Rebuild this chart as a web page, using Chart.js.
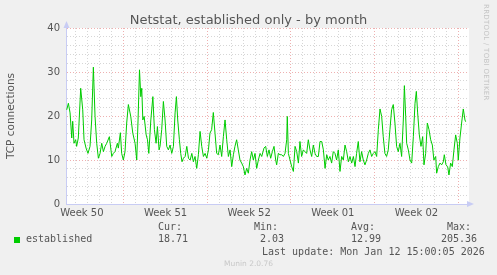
<!DOCTYPE html>
<html>
<head>
<meta charset="utf-8">
<script src="https://cdn.jsdelivr.net/npm/chart.js@4/dist/chart.umd.min.js"></script>
<style>
  body { margin: 0; background: #f0f0f0; }
  #wrap { position: relative; width: 497px; height: 275px; background: #f0f0f0; overflow: hidden; }
  #netstat-month-id { position: absolute; left: 0; top: 0; }
  .title { position: absolute; left: 0; width: 497px; top: 11.5px; line-height: 16px; text-align: center; font: 13px "DejaVu Sans", sans-serif; color: #555; white-space: pre; }
  .txt { position: absolute; font: 10px "DejaVu Sans Mono", monospace; color: #555; line-height: 12px; white-space: pre; }
  .swatch { position: absolute; left: 14px; top: 237px; width: 6px; height: 6px; background: #00cc00; }
  .credit { position: absolute; left: 482px; top: 4px; writing-mode: vertical-rl; font: 7px "DejaVu Sans", sans-serif; color: #c4c4c4; letter-spacing: 0.3px; }
  .munin { position: absolute; left: 0; width: 497px; top: 259px; text-align: center; font: 7.5px "DejaVu Sans", sans-serif; color: #c8c8c8; }
</style>
</head>
<body>
<div id="wrap">
  <canvas id="netstat-month-id" width="497" height="275"></canvas>
  <div class="title">Netstat, established only - by month</div>
  <div class="credit">RRDTOOL / TOBI OETIKER</div>
  <div class="txt" style="left:158px;top:221px">Cur:</div>
  <div class="txt" style="left:254px;top:221px">Min:</div>
  <div class="txt" style="left:351px;top:221px">Avg:</div>
  <div class="txt" style="left:447px;top:221px">Max:</div>
  <div class="swatch"></div>
  <div class="txt" style="left:26px;top:233px">established</div>
  <div class="txt" style="left:158px;top:233px">18.71</div>
  <div class="txt" style="left:260px;top:233px">2.03</div>
  <div class="txt" style="left:351px;top:233px">12.99</div>
  <div class="txt" style="left:441px;top:233px">205.36</div>
  <div class="txt" style="left:262px;top:246px">Last update: Mon Jan 12 15:00:05 2026</div>
  <div class="munin">Munin 2.0.76</div>
</div>
<script>
// time in days relative to Mon Jan 12 00:00
const days = [
  -32.77,-32.63,-32.49,-32.35,-32.27,-32.16,-32.02,-31.94,-31.80,-31.60,
  -31.43,-31.32,-31.15,-30.99,-30.82,-30.68,-30.54,-30.40,-30.26,-30.12,
  -29.98,-29.84,-29.70,-29.56,-29.42,-29.20,-29.00,-28.87,-28.73,-28.53,
  -28.45,-28.28,-28.17,-28.03,-27.89,-27.75,-27.61,-27.41,-27.24,-27.05,
  -26.91,-26.80,-26.68,-26.57,-26.49,-26.40,-26.29,-26.12,-26.01,-25.90,
  -25.73,-25.56,-25.43,-25.29,-25.18,-25.04,-24.96,-24.82,-24.68,-24.54,
  -24.40,-24.26,-24.12,-23.98,-23.84,-23.70,-23.59,-23.48,-23.34,-23.23,
  -23.12,-23.00,-22.86,-22.72,-22.58,-22.44,-22.30,-22.17,-22.03,-21.89,
  -21.75,-21.61,-21.47,-21.33,-21.19,-21.05,-20.91,-20.78,-20.64,-20.50,
  -20.36,-20.22,-20.08,-19.94,-19.80,-19.66,-19.52,-19.38,-19.24,-19.10,
  -18.96,-18.82,-18.69,-18.55,-18.41,-18.27,-18.13,-17.99,-17.85,-17.71,
  -17.57,-17.43,-17.29,-17.15,-17.01,-16.87,-16.73,-16.59,-16.45,-16.26,
  -16.12,-15.98,-15.84,-15.70,-15.56,-15.42,-15.28,-15.20,-15.06,-14.92,
  -14.78,-14.64,-14.50,-14.36,-14.31,-14.22,-14.08,-13.94,-13.80,-13.66,
  -13.52,-13.38,-13.25,-13.11,-12.97,-12.83,-12.69,-12.55,-12.41,-12.27,
  -12.13,-11.99,-11.85,-11.71,-11.57,-11.43,-11.29,-11.15,-11.01,-10.88,
  -10.74,-10.60,-10.46,-10.32,-10.18,-10.04,-9.90,-9.76,-9.62,-9.48,
  -9.34,-9.20,-9.06,-8.92,-8.78,-8.64,-8.51,-8.37,-8.23,-8.09,
  -7.95,-7.81,-7.67,-7.53,-7.39,-7.25,-7.11,-6.97,-6.83,-6.69,
  -6.55,-6.41,-6.28,-6.14,-6.00,-5.86,-5.72,-5.58,-5.44,-5.30,
  -5.16,-5.02,-4.88,-4.74,-4.60,-4.51,-4.40,-4.32,-4.18,-4.04,
  -3.90,-3.76,-3.62,-3.51,-3.40,-3.26,-3.12,-2.98,-2.87,-2.73,
  -2.59,-2.45,-2.31,-2.17,-2.04,-1.89,-1.81,-1.67,-1.53,-1.39,
  -1.25,-1.17,-1.03,-0.89,-0.78,-0.64,-0.50,-0.36,-0.22,-0.08,
  0.00,0.14,0.28,0.42,0.56,0.62
];

// established TCP connections
const established = [
  21.4,22.9,20.7,15.0,18.8,13.8,14.6,13.1,15.0,26.3,
  21.4,14.6,12.7,11.5,13.1,19.1,31.1,19.9,13.8,10.4,
  11.5,13.8,11.9,13.1,13.8,15.3,10.8,11.5,11.9,13.8,
  12.7,16.2,11.5,10.0,11.9,18.4,22.6,19.9,16.1,13.8,
  10.0,19.1,30.5,24.4,26.3,19.1,19.9,15.7,14.6,11.5,
  19.1,24.4,16.9,13.8,17.6,12.3,13.1,16.9,23.3,19.1,
  13.1,12.3,13.4,11.5,13.1,20.7,24.4,19.1,14.6,11.5,
  9.6,10.4,10.8,13.1,10.4,10.0,11.5,9.6,10.8,8.1,
  11.2,16.5,13.1,10.8,11.5,10.4,12.3,16.1,16.9,20.8,
  16.1,11.5,11.2,13.4,10.8,15.3,19.1,14.6,10.8,12.3,
  8.5,11.2,13.1,14.6,12.3,10.0,9.3,8.5,6.6,8.1,
  7.0,10.0,11.9,10.0,11.5,8.1,10.0,11.5,10.8,12.7,
  13.1,10.8,12.3,10.4,11.9,13.1,10.0,8.9,11.5,11.2,
  11.2,10.8,11.5,14.6,19.9,11.5,10.0,8.5,7.4,13.1,
  11.9,9.3,14.2,10.8,12.3,11.9,11.5,14.6,12.3,10.8,
  13.4,11.5,10.8,10.8,14.2,14.2,12.3,8.1,11.2,10.0,
  10.8,9.3,11.9,11.5,10.0,12.3,7.4,10.8,10.0,13.4,
  11.9,9.6,10.8,9.3,10.8,8.5,11.5,14.2,9.6,11.9,
  10.0,8.9,10.0,11.5,12.3,10.8,11.5,11.9,10.8,16.9,
  21.6,19.9,15.3,11.5,10.8,12.3,16.9,21.4,22.6,18.4,
  13.1,11.9,13.8,10.8,19.1,26.9,19.9,13.8,12.3,10.0,
  9.3,15.3,22.9,25.6,20.7,15.7,13.1,15.3,8.9,11.5,
  18.4,16.9,14.6,13.4,10.0,10.8,7.0,8.5,9.3,8.9,
  9.6,11.2,8.9,8.5,6.6,9.3,8.5,12.3,15.7,13.8,
  10.0,15.0,18.4,21.6,19.1,18.7
];

// week labels sit mid-week (Thursday noon)
const weekLabels = ['Week 50', 'Week 51', 'Week 52', 'Week 01', 'Week 02'];
const weekCenters = [-31.5, -24.5, -17.5, -10.5, -3.5];
const yTickLabels = [0, 10, 20, 30, 40];

const AXIS_COLOR = '#c8ccf4';
const MAJOR_GRID = '#eeb0b0';
const MINOR_GRID = '#d6d6d6';

// white plot background + axis arrows, like rrdtool
const muninFrame = {
  id: 'muninFrame',
  beforeDraw(chart) {
    const { ctx, chartArea: a } = chart;
    ctx.save();
    ctx.fillStyle = '#ffffff';
    ctx.fillRect(a.left, a.top, a.right - a.left + 2, a.bottom - a.top);
    ctx.restore();
  },
  afterDraw(chart) {
    const { ctx, chartArea: a } = chart;
    ctx.save();
    ctx.fillStyle = AXIS_COLOR;
    ctx.beginPath();
    ctx.moveTo(a.left + 0.5, a.top - 7);
    ctx.lineTo(a.left - 2.5, a.top);
    ctx.lineTo(a.left + 3.5, a.top);
    ctx.fill();
    ctx.beginPath();
    ctx.moveTo(a.right + 7, a.bottom);
    ctx.lineTo(a.right, a.bottom - 3);
    ctx.lineTo(a.right, a.bottom + 3);
    ctx.fill();
    ctx.restore();
  }
};

const ctx = document.getElementById('netstat-month-id');
new Chart(ctx, {
  type: 'line',
  data: {
    datasets: [{
      label: 'established',
      data: days.map((d, i) => ({ x: d, y: established[i] })),
      borderColor: '#00cc00',
      borderWidth: 1,
      pointRadius: 0,
      tension: 0,
      fill: false
    }]
  },
  options: {
    responsive: false,
    animation: false,
    layout: { padding: { left: 0, right: 30, top: 28, bottom: 57 } },
    plugins: {
      legend: { display: false },
      tooltip: { enabled: false },
      title: { display: false }
    },
    scales: {
      x: {
        type: 'linear',
        min: -32.83,
        max: 0.73,
        afterBuildTicks: axis => {
          const t = [];
          for (let d = -32; d <= 0; d++) t.push({ value: d });
          axis.ticks = t;
        },
        afterFit: axis => { axis.height = 0; },
        ticks: { display: false },
        grid: {
          drawTicks: false,
          color: c => (c.tick && c.tick.value % 7 === 0) ? MAJOR_GRID : MINOR_GRID
        },
        border: { color: AXIS_COLOR, dash: [1, 2] }
      },
      weeks: {
        type: 'linear',
        position: 'bottom',
        weight: 1,
        min: -32.83,
        max: 0.73,
        afterBuildTicks: axis => {
          axis.ticks = weekCenters.map(v => ({ value: v }));
        },
        afterFit: axis => { axis.height = 14; },
        ticks: {
          color: '#555',
          padding: 3,
          maxRotation: 0,
          autoSkip: false,
          font: { family: 'DejaVu Sans', size: 10 },
          callback: value => weekLabels[weekCenters.indexOf(value)] || ''
        },
        grid: { display: false, drawTicks: false },
        border: { display: false }
      },
      y: {
        min: 0,
        max: 40,
        afterBuildTicks: axis => {
          const t = [];
          for (let v = 0; v <= 40; v += 2) t.push({ value: v });
          axis.ticks = t;
        },
        afterFit: axis => { axis.width = 66; },
        ticks: {
          color: '#555',
          padding: 6,
          autoSkip: false,
          font: { family: 'DejaVu Sans', size: 10 },
          callback: value => yTickLabels.includes(value) ? String(value) : ''
        },
        grid: {
          drawTicks: false,
          color: c => (c.tick && c.tick.value % 10 === 0) ? MAJOR_GRID : MINOR_GRID
        },
        border: { color: AXIS_COLOR, dash: [1, 2] },
        title: {
          display: true,
          text: 'TCP connections',
          color: '#555',
          font: { family: 'DejaVu Sans', size: 10.5 },
          padding: { top: 5, bottom: 0 }
        }
      }
    }
  },
  plugins: [muninFrame]
});
</script>
</body>
</html>
